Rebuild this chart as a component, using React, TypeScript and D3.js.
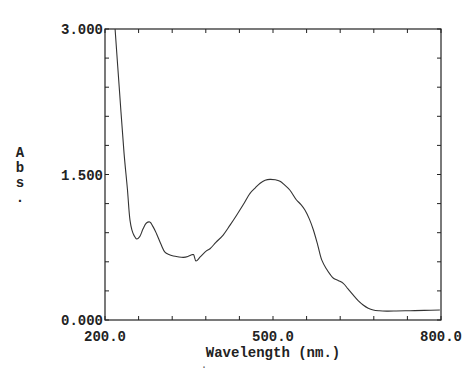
import React from "react";
import * as d3 from "d3";

const wavelengths = [218, 226, 234, 240, 244.6, 248, 252, 256.6, 262, 268, 274, 280, 286, 292, 300, 307, 314, 322, 330, 340, 348, 355, 358, 362.5, 370, 381.6, 387.5, 398, 411, 423, 435, 447, 459, 468, 477, 486, 494.6, 504, 512.5, 521, 530, 542, 550, 557, 565, 572, 580, 587, 595, 602, 608, 617, 625.5, 634, 643, 652, 661, 670, 679, 690, 703, 720, 745, 770, 798];
const absorbance = [3.0, 2.35, 1.72, 1.35, 1.03, 0.93, 0.87, 0.835, 0.86, 0.94, 1.0, 1.01, 0.96, 0.89, 0.78, 0.70, 0.675, 0.66, 0.652, 0.646, 0.655, 0.672, 0.675, 0.608, 0.65, 0.715, 0.735, 0.80, 0.876, 0.975, 1.08, 1.19, 1.306, 1.36, 1.41, 1.44, 1.45, 1.445, 1.43, 1.39, 1.34, 1.237, 1.19, 1.134, 1.04, 0.93, 0.77, 0.62, 0.53, 0.47, 0.43, 0.405, 0.378, 0.32, 0.258, 0.2, 0.155, 0.122, 0.103, 0.095, 0.092, 0.093, 0.096, 0.099, 0.103];

const xTickLabels = ["200.0", "500.0", "800.0"];
const yTickLabels = ["0.000", "1.500", "3.000"];
const xLabel = "Wavelength (nm.)";
const yLabelChars = ["A", "b", "s", "."];

const X0 = 200, X1 = 800, Y0 = 0, Y1 = 3;

export default function App() {
  const left = 105, right = 441, top = 29, bottom = 320;
  const x = d3.scaleLinear().domain([X0, X1]).range([left, right]);
  const y = d3.scaleLinear().domain([Y0, Y1]).range([bottom, top]);
  const pts = wavelengths.map((w, i) => [w, absorbance[i]] as [number, number]);
  const line = d3.line<[number, number]>()
    .x(d => x(d[0]))
    .y(d => y(d[1]))
    .curve(d3.curveCatmullRom.alpha(0.5));
  const xTicks = d3.range(0, 11).map(i => X0 + i * 60);
  const yTicks = d3.range(0, 11).map(i => Y0 + i * 0.3);
  const tl = 4;
  const font = "'Liberation Mono', 'DejaVu Sans Mono', monospace";
  return (
    <svg width={474} height={370} style={{ position: "absolute", left: 0, top: 0, background: "#fff" }}>
      <rect x={left} y={top} width={right - left} height={bottom - top} fill="none" stroke="#222" strokeWidth={1.2} />
      {xTicks.map((t, i) => (
        <g key={"xt" + i}>
          <line x1={x(t)} x2={x(t)} y1={bottom} y2={bottom - tl} stroke="#222" />
          <line x1={x(t)} x2={x(t)} y1={top} y2={top + tl} stroke="#222" />
        </g>
      ))}
      {yTicks.map((t, i) => (
        <g key={"yt" + i}>
          <line x1={left} x2={left + tl} y1={y(t)} y2={y(t)} stroke="#222" />
          <line x1={right} x2={right - tl} y1={y(t)} y2={y(t)} stroke="#222" />
        </g>
      ))}
      <path d={line(pts) || ""} fill="none" stroke="#333" strokeWidth={1.1} />
      {yTickLabels.map((lab, i) => (
        <text key={"yl" + i} x={left - 2} y={y(parseFloat(lab)) + 5} textAnchor="end"
          fontFamily={font} fontSize={14} fontWeight="bold" fill="#222">{lab}</text>
      ))}
      {xTickLabels.map((lab, i) => (
        <text key={"xl" + i} x={x(parseFloat(lab))} y={341} textAnchor="middle"
          fontFamily={font} fontSize={14} fontWeight="bold" fill="#222">{lab}</text>
      ))}
      <text x={(left + right) / 2} y={357} textAnchor="middle" fontFamily={font} fontSize={14} fontWeight="bold" fill="#222">{xLabel}</text>
      {yLabelChars.map((c, i) => (
        <text key={"ya" + i} x={20} y={157 + i * 15} textAnchor="middle" fontFamily={font} fontSize={14} fontWeight="bold" fill="#222">{c}</text>
      ))}
      <text x={204} y={368} textAnchor="middle" fontFamily={font} fontSize={10} fill="#555">.</text>
    </svg>
  );
}
